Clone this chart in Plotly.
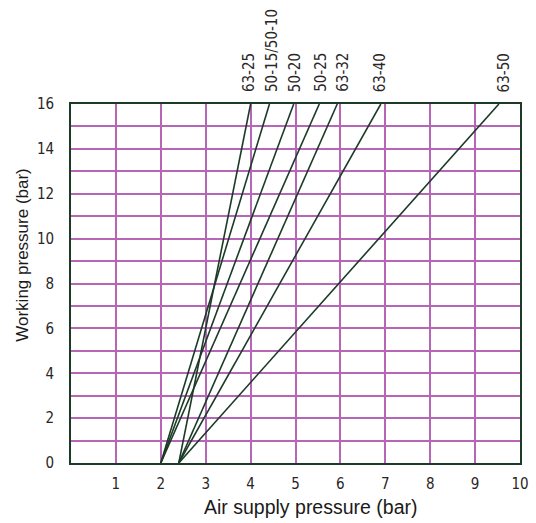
import plotly.graph_objects as go

# Data
series_names = ["63-25", "50-15/50-10", "50-20", "50-25", "63-32", "63-40", "63-50"]
start_x = [2.4, 2.0, 2.0, 2.0, 2.4, 2.4, 2.4]      # air supply pressure at 0 bar working
end_x = [4.0, 4.42, 4.96, 5.53, 5.93, 6.9, 9.53]  # air supply pressure at 16 bar working
start_y = [0, 0, 0, 0, 0, 0, 0]
end_y = [16, 16, 16, 16, 16, 16, 16]
label_shift = [-2, 2, 1, 1, 5, -1, 5]  # pixel nudges for top labels

x_ticks = [1, 2, 3, 4, 5, 6, 7, 8, 9, 10]
y_ticks = [0, 2, 4, 6, 8, 10, 12, 14, 16]

LINE = "#1b3b26"
GRID = "#b766b7"
TICKFONT = dict(family="Liberation Sans Narrow, DejaVu Sans Condensed, sans-serif", size=15, color="#2a2626")

fig = go.Figure()
for name, x0, x1, y0, y1 in zip(series_names, start_x, end_x, start_y, end_y):
    fig.add_trace(go.Scatter(x=[x0, x1], y=[y0, y1], mode="lines", name=name,
                             line=dict(color=LINE, width=1.6), showlegend=False))

for name, x1, y1, sh in zip(series_names, end_x, end_y, label_shift):
    fig.add_annotation(x=x1, y=y1, text=name, textangle=-90, showarrow=False,
                       xanchor="center", yanchor="bottom", yshift=10, xshift=sh,
                       font=TICKFONT)

fig.add_annotation(xref="paper", yref="paper", x=0.534, y=-0.122, text="Air supply pressure (bar)",
                   showarrow=False, xanchor="center", yanchor="middle",
                   font=dict(family="Liberation Sans, Arial, sans-serif", size=19.5, color="#1a1a1a"))
fig.add_annotation(xref="paper", yref="paper", x=-0.107, y=0.58, text="Working pressure (bar)",
                   showarrow=False, textangle=-90, xanchor="center", yanchor="middle",
                   font=dict(family="Liberation Sans, Arial, sans-serif", size=17, color="#1a1a1a"))

fig.update_layout(
    width=536, height=523,
    margin=dict(l=71, r=16, t=104, b=60),
    paper_bgcolor="white", plot_bgcolor="white",
    xaxis=dict(range=[0, 10], tickvals=x_ticks, showgrid=True, gridcolor=GRID, gridwidth=1.6,
               zeroline=False, showline=True, linecolor=LINE, linewidth=1.6, mirror=True,
               ticks="", tickfont=TICKFONT, ticklabelstandoff=6, automargin=False),
    yaxis=dict(range=[0, 16], tickvals=y_ticks, showgrid=True, gridcolor=GRID, gridwidth=1.6,
               minor=dict(dtick=1, showgrid=True, gridcolor=GRID, gridwidth=1.6),
               zeroline=False, showline=True, linecolor=LINE, linewidth=1.6, mirror=True,
               ticks="", tickfont=TICKFONT, ticklabelstandoff=12, automargin=False),
)

fig.write_html("out.html", config={"displayModeBar": False},
               post_script="document.body.style.margin='0';document.body.style.overflow='hidden';")
